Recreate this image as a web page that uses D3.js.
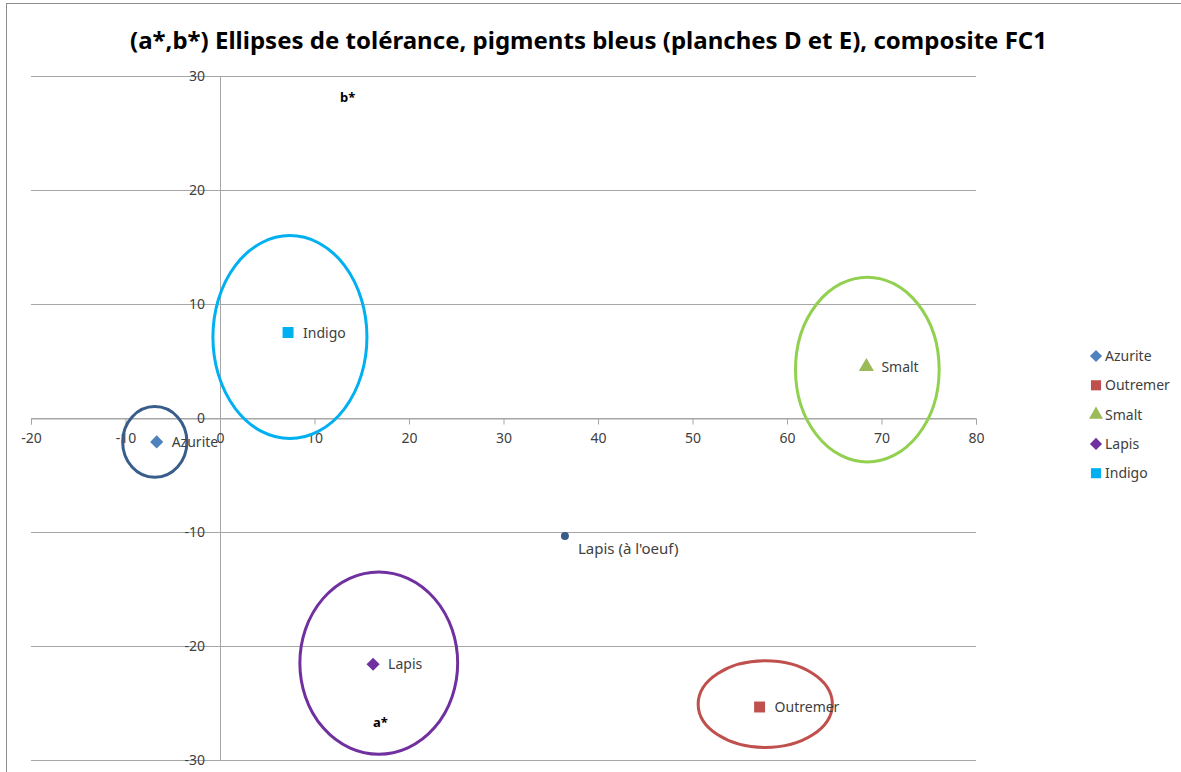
<!DOCTYPE html>
<html><head><meta charset="utf-8">
<script src="https://cdn.jsdelivr.net/npm/d3@7"></script>
<style>body{margin:0;background:#fff}svg{display:block}</style>
</head><body>
<script>
// Data
const pigments = ["Azurite", "Outremer", "Smalt", "Lapis", "Indigo"];
const aValues = [-6.7, 57.1, 68.4, 16.2, 7.2];
const bValues = [-2.1, -25.35, 4.5, -21.6, 7.5];
const markerColors = ["#4F81BD", "#C0504D", "#9BBB59", "#7030A0", "#00B0F0"];
const markerShapes = ["diamond", "square", "triangle", "diamond", "square"];
const ellipseCx = [-6.9, 57.7, 68.5, 16.8, 7.4];
const ellipseCy = [-2.1, -25.1, 4.25, -21.5, 7.1];
const ellipseRx = [3.4, 7.1, 7.6, 8.35, 8.15];
const ellipseRy = [3.1, 3.8, 8.1, 8.0, 8.9];
const ellipseColors = ["#385D8A", "#C0504D", "#92D050", "#7030A0", "#00B0F0"];
const extraLabel = "Lapis (à l'oeuf)";
const extraPoint = [36.5, -10.35];
const xTicks = [-20, -10, 0, 10, 20, 30, 40, 50, 60, 70, 80];
const yTicks = [-30, -20, -10, 0, 10, 20, 30];
const title = "(a*,b*) Ellipses de tolérance, pigments bleus (planches D et E), composite FC1";

const W = 1181, H = 772;
const svg = d3.select("body").append("svg").attr("width", W).attr("height", H);
const font = "'Noto Sans', 'Open Sans', sans-serif";
const fmt = d => String(d);

// chart frame
svg.append("rect").attr("x", 6.5).attr("y", 3.5).attr("width", W + 10).attr("height", H + 10)
  .attr("fill", "none").attr("stroke", "#8c8c8c").attr("stroke-width", 1);

const x = d3.scaleLinear().domain([-20, 80]).range([31, 976]);
const y = d3.scaleLinear().domain([-30, 30]).range([760, 76]);

// gridlines
svg.append("g").selectAll("line").data(yTicks).join("line")
  .attr("x1", x(-20)).attr("x2", x(80))
  .attr("y1", d => Math.round(y(d)) + 0.5).attr("y2", d => Math.round(y(d)) + 0.5)
  .attr("stroke", "#a6a6a6").attr("stroke-width", 1);

// y axis line (at a=0)
svg.append("line").attr("x1", Math.round(x(0)) + 0.5).attr("x2", Math.round(x(0)) + 0.5)
  .attr("y1", y(30)).attr("y2", y(-30)).attr("stroke", "#a6a6a6");

// x axis at b=0
const xAxis = d3.axisBottom(x).tickValues(xTicks).tickSize(6).tickPadding(9).tickFormat(fmt);
const gx = svg.append("g").attr("transform", `translate(0,${Math.round(y(0)) + 0.5})`).call(xAxis);
gx.select(".domain").attr("stroke", "#a6a6a6");
gx.selectAll(".tick line").attr("stroke", "#a6a6a6");
gx.selectAll("text").attr("font-family", font).attr("font-size", 14).attr("fill", "#404040");

// y axis labels
const yAxis = d3.axisLeft(y).tickValues(yTicks).tickSize(0).tickPadding(0).tickFormat(fmt);
const gy = svg.append("g").attr("transform", `translate(${205},0)`).call(yAxis);
gy.select(".domain").remove();
gy.selectAll("text").attr("font-family", font).attr("font-size", 14).attr("fill", "#404040");

// ellipses
svg.append("g").selectAll("ellipse").data(pigments).join("ellipse")
  .attr("cx", (d, i) => x(ellipseCx[i]))
  .attr("cy", (d, i) => y(ellipseCy[i]))
  .attr("rx", (d, i) => x(ellipseCx[i] + ellipseRx[i]) - x(ellipseCx[i]))
  .attr("ry", (d, i) => y(ellipseCy[i]) - y(ellipseCy[i] + ellipseRy[i]))
  .attr("fill", "none").attr("stroke", (d, i) => ellipseColors[i]).attr("stroke-width", 3);

// markers
function symPath(shape, scale) {
  if (shape === "diamond") return d3.symbol(d3.symbolDiamond2, 110 * scale)();
  if (shape === "square") return d3.symbol(d3.symbolSquare, 120 * scale)();
  return d3.symbol(d3.symbolTriangle, 100 * scale)();
}
const pts = svg.append("g");
pigments.forEach((p, i) => {
  pts.append("path").attr("d", symPath(markerShapes[i], 1))
    .attr("transform", `translate(${x(aValues[i])},${y(bValues[i])})`)
    .attr("fill", markerColors[i]);
  pts.append("text").attr("x", x(aValues[i]) + 15).attr("y", y(bValues[i]) + 5)
    .attr("font-family", font).attr("font-size", 14).attr("fill", "#404040").text(p);
});

// extra point
svg.append("circle").attr("cx", x(extraPoint[0])).attr("cy", y(extraPoint[1])).attr("r", 4)
  .attr("fill", "#385D8A");
svg.append("text").attr("x", x(extraPoint[0]) + 13).attr("y", y(extraPoint[1]) + 18)
  .attr("font-family", font).attr("font-size", 15).attr("fill", "#404040").text(extraLabel);

// axis titles
svg.append("text").attr("x", 340).attr("y", 102).attr("font-family", font).attr("font-weight", "bold")
  .attr("font-size", 13).attr("fill", "#000").text("b*");
svg.append("text").attr("x", 373).attr("y", 727).attr("font-family", font).attr("font-weight", "bold")
  .attr("font-size", 13).attr("fill", "#000").text("a*");

// title
svg.append("text").attr("x", 130).attr("y", 49).attr("font-family", font).attr("font-weight", "bold")
  .attr("font-size", 23).attr("fill", "#000").attr("textLength", 917).attr("lengthAdjust", "spacingAndGlyphs")
  .text(title);

// legend
const leg = svg.append("g");
pigments.forEach((p, i) => {
  const ly = 356 + i * 29.3;
  leg.append("path").attr("d", symPath(markerShapes[i], 0.85))
    .attr("transform", `translate(1096,${ly})`).attr("fill", markerColors[i]);
  leg.append("text").attr("x", 1105).attr("y", ly + 5)
    .attr("font-family", font).attr("font-size", 14).attr("fill", "#404040").text(p);
});
</script>
</body></html>
